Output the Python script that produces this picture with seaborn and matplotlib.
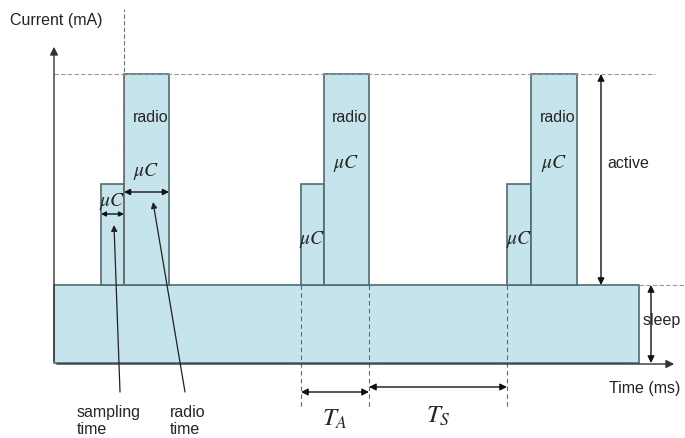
import matplotlib
matplotlib.use('Agg')
import matplotlib.pyplot as plt
import seaborn as sns

# duty cycle picture, units are arbitrary (roughly screen px)
uc_start = [47, 247, 453]
radio_start = [70, 270, 477]
radio_end = [115, 315, 523]
sleep_level = 78
uc_level = 179
radio_level = 289
sleep_end = 585
t_axis_end = 623
i_axis_end = 319

sns.set_style('white')
plt.rcParams['font.family'] = ['Liberation Sans', 'DejaVu Sans']
plt.rcParams['mathtext.fontset'] = 'stix'

fill = '#c6e4eb'
edge = '#4f6b73'
fs = 11.5

fig = plt.figure(figsize=(6.85, 4.39), dpi=100)
ax = fig.add_axes([0, 0, 1, 1])
ax.set_xlim(-54, 631)
ax.set_ylim(-75, 364)
ax.axis('off')

# sleep floor
ax.bar(0, sleep_level, width=sleep_end, align='edge', color=fill, edgecolor=edge, lw=1.2)
# uC and radio blocks on top of sleep current
uc_w = [r - u for u, r in zip(uc_start, radio_start)]
radio_w = [e - r for r, e in zip(radio_start, radio_end)]
ax.bar(uc_start, uc_level - sleep_level, width=uc_w, bottom=sleep_level, align='edge',
       color=fill, edgecolor=edge, lw=1.2)
ax.bar(radio_start, radio_level - sleep_level, width=radio_w, bottom=sleep_level, align='edge',
       color=fill, edgecolor=edge, lw=1.2)

# axes arrows
ax.annotate('', xy=(0, i_axis_end), xytext=(0, -1),
            arrowprops=dict(arrowstyle='-|>', color='#333333', lw=1.0, mutation_scale=12))
ax.annotate('', xy=(t_axis_end, -1), xytext=(0, -1),
            arrowprops=dict(arrowstyle='-|>', color='#333333', lw=1.0, mutation_scale=12))
ax.text(-44, 344, 'Current (mA)', fontsize=fs, color='#222222', va='center')
ax.text(555, -25, 'Time (ms)', fontsize=fs, color='#222222', va='center')

# guide lines
ax.plot([0, 601], [radio_level, radio_level], ls=(0, (4, 2)), color='#999999', lw=0.8)
ax.plot([sleep_end, 631], [sleep_level, sleep_level], ls=(0, (4, 2)), color='#999999', lw=0.8)
ax.plot([radio_start[0], radio_start[0]], [sleep_level, 354], ls=(0, (4, 2)), color='#777777', lw=0.8)
for xv in [uc_start[1], radio_end[1], uc_start[2]]:
    ax.plot([xv, xv], [sleep_level, -46], ls=(0, (4, 3)), color='#666666', lw=0.8)

dbl = dict(arrowstyle='<|-|>', color='#111111', lw=1.0, mutation_scale=10, shrinkA=0, shrinkB=0)

# labels inside blocks
for i in range(3):
    ax.text(radio_end[i] - 1, 246, 'radio', fontsize=fs, ha='right', va='center')
ax.text((radio_start[0] + radio_end[0]) / 2, 192, r'$\mu C$', fontsize=14, ha='center', va='center')
for i in [1, 2]:
    ax.text((radio_start[i] + radio_end[i]) / 2, 201, r'$\mu C$', fontsize=14, ha='center', va='center')
    ax.text((uc_start[i] + radio_start[i]) / 2, 124, r'$\mu C$', fontsize=14, ha='center', va='center')
ax.text((uc_start[0] + radio_start[0]) / 2, 163, r'$\mu C$', fontsize=14, ha='center', va='center')

# first period widths
ax.annotate('', xy=(radio_end[0], 171), xytext=(radio_start[0], 171), arrowprops=dict(dbl, mutation_scale=9))
ax.annotate('', xy=(radio_start[0], 149), xytext=(uc_start[0], 149), arrowprops=dict(dbl, mutation_scale=7))
ax.text(23, -57, 'sampling\ntime', fontsize=fs, ha='left', va='center', linespacing=1.1)
ax.annotate('', xy=(60, 138), xytext=(66, -29),
            arrowprops=dict(arrowstyle='-|>', color='#222222', lw=0.9, mutation_scale=9, shrinkA=0, shrinkB=0))
ax.text(116, -57, 'radio\ntime', fontsize=fs, ha='left', va='center', linespacing=1.1)
ax.annotate('', xy=(99, 161), xytext=(131, -29),
            arrowprops=dict(arrowstyle='-|>', color='#222222', lw=0.9, mutation_scale=9, shrinkA=0, shrinkB=0))

# T_A / T_S
ax.annotate('', xy=(radio_end[1], -29), xytext=(uc_start[1], -29), arrowprops=dict(dbl))
ax.annotate('', xy=(uc_start[2], -24), xytext=(radio_end[1], -24), arrowprops=dict(dbl))
ax.text((uc_start[1] + radio_end[1]) / 2, -55, r'$T_A$', fontsize=18, ha='center', va='center')
ax.text((radio_end[1] + uc_start[2]) / 2, -52, r'$T_S$', fontsize=18, ha='center', va='center')

# active / sleep ranges
ax.annotate('', xy=(547, sleep_level), xytext=(547, radio_level), arrowprops=dict(dbl))
ax.text(553, 201, 'active', fontsize=fs, va='center')
ax.annotate('', xy=(597, 0), xytext=(597, sleep_level), arrowprops=dict(dbl))
ax.text(589, 44, 'sleep', fontsize=fs, va='center')

fig.savefig('out.png', dpi=100)
